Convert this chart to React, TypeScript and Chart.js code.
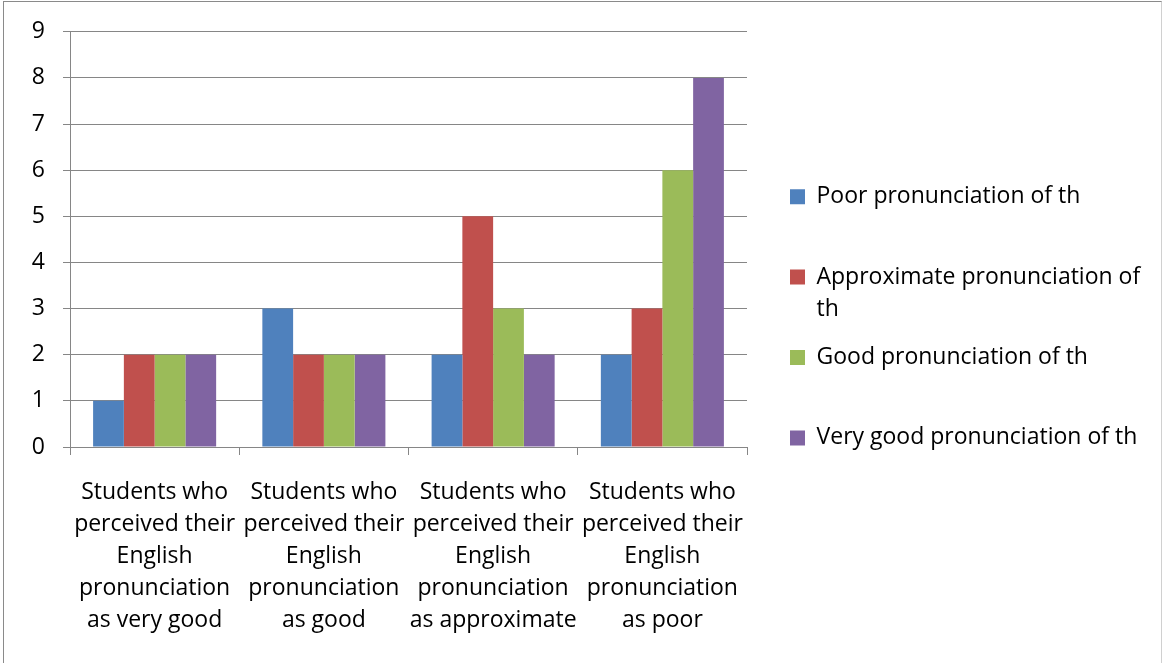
import React, { useEffect, useRef } from "react";
import { Chart, registerables } from "chart.js";

Chart.register(...registerables);

const categories: string[][] = [
  ["Students who", "perceived their", "English", "pronunciation", "as very good"],
  ["Students who", "perceived their", "English", "pronunciation", "as good"],
  ["Students who", "perceived their", "English", "pronunciation", "as approximate"],
  ["Students who", "perceived their", "English", "pronunciation", "as poor"],
];

const seriesNames = [
  "Poor pronunciation of th",
  "Approximate pronunciation of th",
  "Good pronunciation of th",
  "Very good pronunciation of th",
];

const legendLines: string[][] = [
  ["Poor pronunciation of th", ""],
  ["Approximate pronunciation of", "th"],
  ["Good pronunciation of th", ""],
  ["Very good pronunciation of th", ""],
];

const poorValues = [1, 3, 2, 2];
const approximateValues = [2, 2, 5, 3];
const goodValues = [2, 2, 3, 6];
const veryGoodValues = [2, 2, 2, 8];

const seriesColors = ["#4F81BD", "#C0504D", "#9BBB59", "#8064A2"];

const yTicks = [0, 1, 2, 3, 4, 5, 6, 7, 8, 9];

const W = 1165;
const H = 663;
const FONT_FAMILY = '"Open Sans", sans-serif';
const FONT_SIZE = 23;
const GRID = "#868686";

export default function App() {
  const ref = useRef<HTMLCanvasElement | null>(null);

  useEffect(() => {
    const canvas = ref.current;
    if (!canvas) return;

    const m = document.createElement("canvas").getContext("2d")!;
    m.font = `${FONT_SIZE}px ${FONT_FAMILY}`;
    let maxText = 0;
    legendLines.forEach((lines) => {
      const longest = lines.reduce((a, b) => (a.length > b.length ? a : b));
      maxText = Math.max(maxText, m.measureText(longest).width);
    });
    const legendPad = 16;
    const legendW = legendPad + 15 + FONT_SIZE / 2 + maxText + 10;
    const padRight = Math.max(0, W - 774 - legendW);

    const values = [poorValues, approximateValues, goodValues, veryGoodValues];

    const chart = new Chart(canvas, {
      type: "bar",
      data: {
        labels: categories,
        datasets: values.map((v, i) => ({
          label: seriesNames[i],
          data: v,
          backgroundColor: seriesColors[i],
          borderWidth: 0,
          categoryPercentage: 0.727,
          barPercentage: 1,
        })),
      },
      options: {
        responsive: false,
        animation: false,
        layout: { padding: { top: 31, bottom: 18, left: 0, right: padRight } },
        scales: {
          x: {
            type: "category",
            offset: true,
            grid: {
              offset: true,
              drawOnChartArea: false,
              drawTicks: true,
              tickLength: 8,
              color: GRID,
              lineWidth: 1,
            },
            border: { display: true, color: GRID, width: 1 },
            ticks: {
              color: "#000",
              font: { family: FONT_FAMILY, size: FONT_SIZE, lineHeight: 1.4 },
              padding: 21,
              maxRotation: 0,
              minRotation: 0,
              autoSkip: false,
            },
            afterFit: (s: any) => {
              s.height = H - 18 - 447;
            },
          },
          y: {
            type: "linear",
            position: "left",
            min: 0,
            max: 9,
            afterBuildTicks: (s: any) => {
              s.ticks = yTicks.map((v) => ({ value: v }));
            },
            grid: {
              color: GRID,
              lineWidth: 1,
              drawTicks: true,
              tickLength: 7,
            },
            border: { display: true, color: GRID, width: 1 },
            ticks: {
              color: "#000",
              font: { family: FONT_FAMILY, size: FONT_SIZE },
              padding: 18,
            },
            afterFit: (s: any) => {
              s.width = 70;
            },
          },
          gap: {
            type: "linear",
            position: "right",
            display: true,
            grid: { display: false, drawTicks: false },
            border: { display: false },
            ticks: { display: false },
            afterFit: (s: any) => {
              s.width = 27;
            },
          },
        },
        plugins: {
          tooltip: { enabled: false },
          title: { display: false },
          legend: {
            display: true,
            position: "right",
            align: "center",
            maxWidth: 420,
            labels: {
              boxWidth: 15,
              boxHeight: 15,
              padding: legendPad,
              color: "#000",
              font: { family: FONT_FAMILY, size: FONT_SIZE, lineHeight: 1.4 },
              generateLabels: (c: any) => {
                const base = (Chart.defaults.plugins.legend.labels as any).generateLabels(c);
                return base.map((item: any, i: number) => ({ ...item, text: legendLines[i] }));
              },
            },
          },
        },
      } as any,
    });

    return () => {
      chart.destroy();
    };
  }, []);

  return (
    <div style={{ position: "absolute", left: 0, top: 0, width: W, height: H, background: "#fff", overflow: "hidden" }}>
      <canvas ref={ref} width={W} height={H} style={{ position: "absolute", left: 0, top: 0, width: W, height: H }} />
      <div
        style={{
          position: "absolute",
          left: 3,
          top: 1,
          width: 1159,
          height: 700,
          border: "1px solid #8a8a8a",
          borderRightColor: "#d0d0d0",
          boxSizing: "border-box",
          pointerEvents: "none",
        }}
      />
    </div>
  );
}
